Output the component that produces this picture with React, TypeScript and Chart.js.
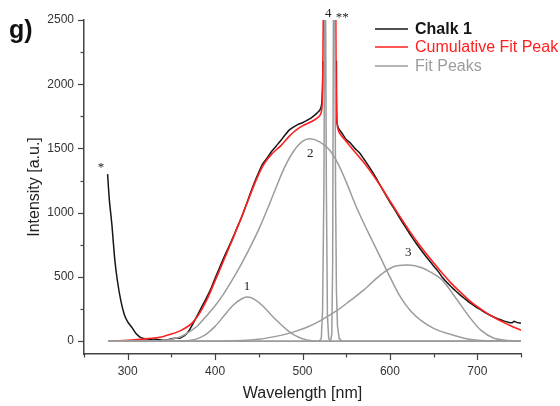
import { useEffect, useRef } from 'react';
import { Chart, registerables } from 'chart.js';
Chart.register(...registerables);

// ---- data (wavelength in nm, intensity in a.u.) ----
const chalkWl = [277,279,282,285,288,292,296,300,305,310,315,320,325,330,335,340,345,350,355,360,365,370,375,380,385,390,395,400,405,410,415,420,425,430,435,440,445,450,455,460,465,470,475,480,485,490,495,500,505,510,515,520,522,523,523.4,530,538.8,539.2,541,545,550,555,560,565,570,575,580,585,590,595,600,605,610,615,620,625,630,635,640,645,650,655,660,665,670,675,680,685,690,695,700,705,710,715,720,725,730,735,740,742,745,748,750];
const chalkInt = [1300,1100,900,650,480,320,210,150,105,55,28,18,15,16,12,8,10,18,22,25,42,80,140,205,270,335,405,490,570,650,725,800,880,960,1050,1145,1235,1315,1385,1430,1480,1520,1560,1605,1645,1668,1688,1700,1718,1738,1765,1800,1850,2000,2180,null,2180,1720,1660,1620,1570,1540,1500,1468,1420,1370,1318,1262,1200,1140,1082,1030,972,918,864,812,762,715,670,628,585,545,497,458,425,392,362,334,306,283,260,240,218,200,184,170,158,148,144,155,146,142,140];

const cumWl = [278,290,300,310,320,330,340,350,360,370,375,380,385,390,395,400,405,410,415,420,425,430,435,440,445,450,455,460,465,470,475,480,485,490,495,500,505,510,515,520,522,523,524,530,538,538.5,539.5,541.5,545,550,560,570,580,590,600,610,620,630,640,650,660,670,680,690,700,710,720,730,740,750];
const cumInt = [0,3,7,12,18,25,35,55,80,120,150,195,250,315,390,470,550,632,712,792,878,960,1048,1135,1222,1300,1368,1418,1458,1490,1520,1558,1596,1628,1655,1676,1692,1708,1728,1758,1800,1950,2700,null,2700,2000,1700,1630,1595,1555,1472,1392,1300,1200,1092,985,882,784,694,610,528,452,385,322,268,222,182,146,114,85];

const peak1Wl = [278,360,370,380,390,400,410,420,430,437,445,455,465,475,485,495,505,520,750];
const peak1Int = [0,0,5,20,55,115,195,275,328,343,326,272,198,132,72,32,10,0,0];

const peak2Wl = [278,330,340,350,360,370,380,390,400,410,420,430,440,450,460,470,480,490,500,509,520,530,540,550,560,570,580,590,600,612,623,635,650,665,689,710,750];
const peak2Int = [0,0,5,15,32,70,120,195,275,370,480,600,730,870,1030,1200,1360,1480,1555,1575,1550,1495,1390,1240,1070,920,780,640,500,344,240,164,100,62,16,3,0];

const peak3Wl = [278,400,430,450,475,490,505,520,540,555,570,589,604,620,635,646,660,677,692,704,719,735,750];
const peak3Int = [0,0,5,15,45,72,108,158,241,318,397,514,579,592,575,540,475,320,179,86,23,5,0];

const peak4Wl = [278,519,521.5,523,524.5,525.5,526.4,527.3,528.5,530,532,750];
const peak4Int = [0,0,20,250,1200,2700,2700,1200,200,20,0,0];

const peak5Wl = [278,532,533.5,534.5,535.4,536.9,537.8,538.8,540,542,545,750];
const peak5Int = [0,0,50,600,2700,2700,1200,400,120,20,0,0];

const xMajorTicks = [300,400,500,600,700];
const xMinorTicks = [250,350,450,550,650,750];
const yMajorTicks = [0,500,1000,1500,2000,2500];
const yMinorTicks = [250,750,1250,1750,2250];

const peakLabels = ['1','2','3','4','**','*'];
const peakLabelWl = [436.4,509,621,529.5,545.5,269.5];
const peakLabelInt = [428,1464,693,2547,2520,1350];

const legendLabels = ['Chalk 1','Cumulative Fit Peak','Fit Peaks'];

const BLACK = '#161616';
const RED = '#ff1e1e';
const GRAY = '#9c9c9c';
const AXIS = '#444444';
const SANS = "'Liberation Sans', Arial, sans-serif";
const SERIF = "'Liberation Serif', 'Times New Roman', serif";

const pts = (xs: number[], ys: (number | null)[]) => xs.map((x, i) => ({ x, y: ys[i] }));

const overlay = {
  id: 'overlay',
  afterDraw(chart: any) {
    const { ctx, chartArea } = chart;
    const xs = chart.scales.x;
    const ys = chart.scales.y;
    ctx.save();
    // tick marks
    ctx.strokeStyle = AXIS;
    ctx.lineWidth = 1.2;
    const xt = (v: number, len: number) => {
      const p = Math.round(xs.getPixelForValue(v)) + 0.5;
      ctx.beginPath();
      ctx.moveTo(p, chartArea.bottom);
      ctx.lineTo(p, chartArea.bottom + len);
      ctx.stroke();
    };
    const yt = (v: number, len: number) => {
      const p = Math.round(ys.getPixelForValue(v)) + 0.5;
      ctx.beginPath();
      ctx.moveTo(chartArea.left, p);
      ctx.lineTo(chartArea.left - len, p);
      ctx.stroke();
    };
    xMajorTicks.forEach((v) => xt(v, 6));
    xMinorTicks.forEach((v) => xt(v, 3.5));
    yMajorTicks.forEach((v) => yt(v, 6));
    yMinorTicks.forEach((v) => yt(v, 3.5));

    // peak labels
    ctx.fillStyle = '#222';
    ctx.font = `13px ${SERIF}`;
    ctx.textAlign = 'center';
    ctx.textBaseline = 'middle';
    peakLabels.forEach((t, i) => {
      ctx.fillText(t, xs.getPixelForValue(peakLabelWl[i]), ys.getPixelForValue(peakLabelInt[i]));
    });

    // panel letter
    ctx.fillStyle = '#111';
    ctx.font = `bold 25px ${SANS}`;
    ctx.textAlign = 'left';
    ctx.textBaseline = 'alphabetic';
    ctx.fillText('g)', 9, 38);

    // legend
    const colors = [BLACK, RED, GRAY];
    const rowY = [29, 47, 66];
    legendLabels.forEach((t, i) => {
      ctx.strokeStyle = colors[i];
      ctx.lineWidth = 1.6;
      ctx.beginPath();
      ctx.moveTo(375, rowY[i]);
      ctx.lineTo(408, rowY[i]);
      ctx.stroke();
      ctx.fillStyle = colors[i];
      ctx.font = `${i === 0 ? 'bold ' : ''}16px ${SANS}`;
      ctx.textBaseline = 'middle';
      ctx.fillText(t, 415, rowY[i] + 1);
    });
    ctx.restore();
  },
};

export default function App() {
  const ref = useRef<HTMLCanvasElement>(null);
  useEffect(() => {
    document.body.style.margin = '0';
    const grayDs = (xs: number[], ys: number[]) => ({
      data: pts(xs, ys),
      borderColor: GRAY,
      borderWidth: 1.5,
      pointRadius: 0,
      tension: 0.3,
      fill: false,
    });
    const chart = new Chart(ref.current!, {
      type: 'line',
      data: {
        datasets: [
          grayDs(peak1Wl, peak1Int),
          grayDs(peak2Wl, peak2Int),
          grayDs(peak3Wl, peak3Int),
          { ...grayDs(peak4Wl, peak4Int), tension: 0 },
          { ...grayDs(peak5Wl, peak5Int), tension: 0 },
          {
            data: pts(cumWl, cumInt),
            borderColor: RED,
            borderWidth: 1.6,
            pointRadius: 0,
            tension: 0.2,
            spanGaps: false,
          },
          {
            data: pts(chalkWl, chalkInt),
            borderColor: BLACK,
            borderWidth: 1.5,
            pointRadius: 0,
            tension: 0.2,
            spanGaps: false,
          },
        ],
      },
      options: {
        animation: false,
        responsive: false,
        devicePixelRatio: 1,
        layout: { padding: { top: 20, right: 39, left: 0, bottom: 0 } },
        plugins: { legend: { display: false }, tooltip: { enabled: false } },
        scales: {
          x: {
            type: 'linear',
            min: 250,
            max: 750,
            afterFit: (s: any) => { s.height = 52; },
            afterBuildTicks: (s: any) => { s.ticks = xMajorTicks.map((v) => ({ value: v })); },
            grid: { display: true, drawOnChartArea: false, drawTicks: true, tickLength: 6, color: 'rgba(0,0,0,0)' },
            border: { display: true, color: AXIS, width: 1.5 },
            ticks: {
              padding: 4,
              maxRotation: 0,
              autoSkip: false,
              color: '#333',
              font: { family: SANS, size: 12 },
              callback: (v: any) => String(v),
            },
            title: {
              display: true,
              text: 'Wavelength [nm]',
              color: '#222',
              font: { family: SANS, size: 16 },
              padding: { top: 0, bottom: 3 },
            },
          },
          y: {
            type: 'linear',
            min: -100,
            max: 2500,
            afterFit: (s: any) => { s.width = 84; },
            afterBuildTicks: (s: any) => { s.ticks = yMajorTicks.map((v) => ({ value: v })); },
            grid: { display: true, drawOnChartArea: false, drawTicks: true, tickLength: 6, color: 'rgba(0,0,0,0)' },
            border: { display: true, color: AXIS, width: 1.5 },
            ticks: {
              padding: 4,
              autoSkip: false,
              color: '#333',
              font: { family: SANS, size: 12 },
              callback: (v: any) => String(v),
            },
            title: {
              display: true,
              text: 'Intensity [a.u.]',
              color: '#222',
              font: { family: SANS, size: 16 },
              padding: { top: 25, bottom: 0 },
            },
          },
        },
      },
      plugins: [overlay],
    } as any);
    return () => chart.destroy();
  }, []);
  return (
    <div style={{ position: 'absolute', left: 0, top: 0, width: 560, height: 406, background: '#fff' }}>
      <canvas ref={ref} width={560} height={406} style={{ width: 560, height: 406, display: 'block' }} />
    </div>
  );
}
